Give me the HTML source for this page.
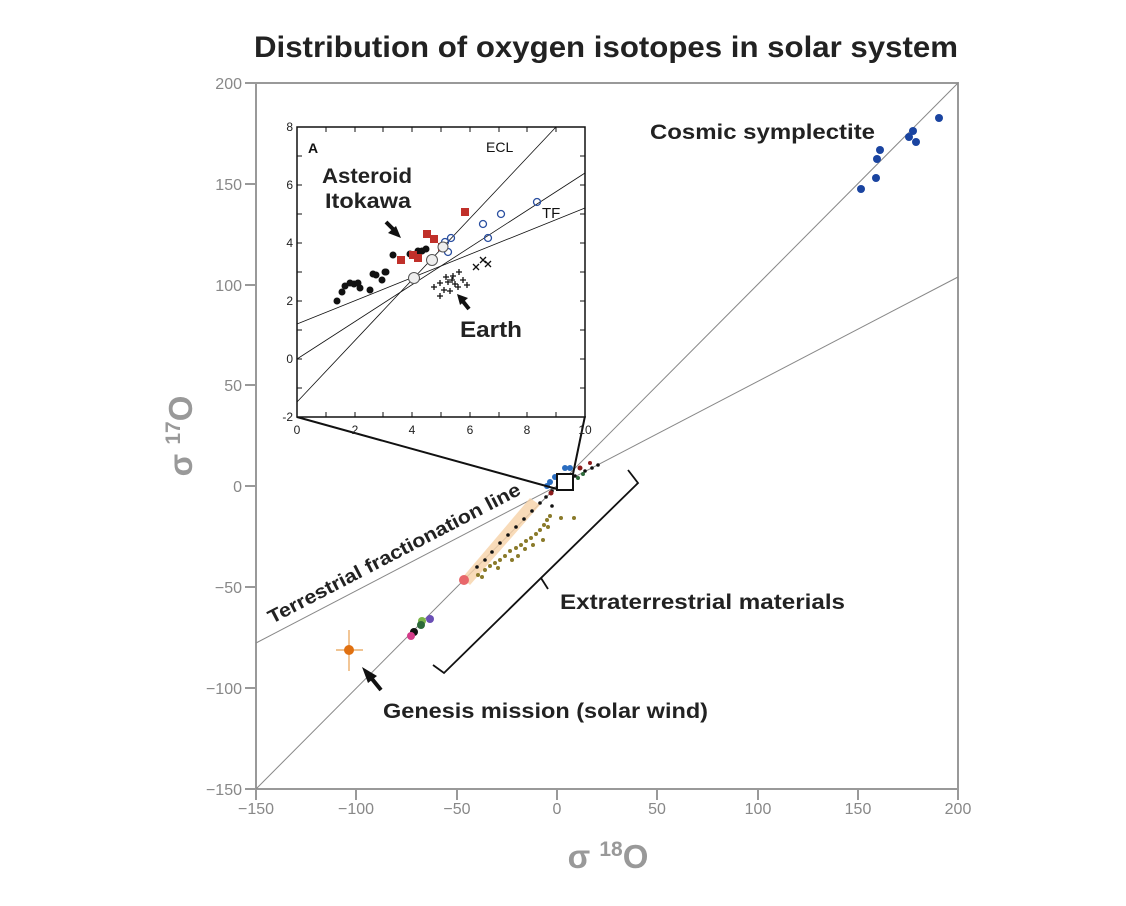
<!DOCTYPE html>
<html><head><meta charset="utf-8"><style>
body{margin:0;background:#fff;}
svg{display:block;font-family:"Liberation Sans",Arial,sans-serif;}
</style></head><body>
<svg width="1126" height="906" viewBox="0 0 1126 906">
<text x="606" y="57" text-anchor="middle" font-size="30" font-weight="bold" fill="#222" textLength="704" lengthAdjust="spacingAndGlyphs">Distribution of oxygen isotopes in solar system</text>
<g stroke="#999" stroke-width="2" fill="none">
<rect x="256" y="83" width="702" height="706"/>
</g>
<g stroke="#999" stroke-width="2">
<line x1="245" y1="83" x2="256" y2="83"/><line x1="245" y1="184" x2="256" y2="184"/><line x1="245" y1="285" x2="256" y2="285"/>
<line x1="245" y1="385" x2="256" y2="385"/><line x1="245" y1="486" x2="256" y2="486"/><line x1="245" y1="587" x2="256" y2="587"/>
<line x1="245" y1="688" x2="256" y2="688"/><line x1="245" y1="789" x2="256" y2="789"/>
<line x1="256" y1="789" x2="256" y2="800"/><line x1="356" y1="789" x2="356" y2="800"/><line x1="457" y1="789" x2="457" y2="800"/>
<line x1="557" y1="789" x2="557" y2="800"/><line x1="657" y1="789" x2="657" y2="800"/><line x1="758" y1="789" x2="758" y2="800"/>
<line x1="858" y1="789" x2="858" y2="800"/><line x1="958" y1="789" x2="958" y2="800"/>
</g>
<g font-size="16" fill="#888" text-anchor="end">
<text x="242" y="89">200</text><text x="242" y="190">150</text><text x="242" y="291">100</text><text x="242" y="391">50</text>
<text x="242" y="492">0</text><text x="242" y="593">−50</text><text x="242" y="694">−100</text><text x="242" y="795">−150</text>
</g>
<g font-size="16" fill="#888" text-anchor="middle">
<text x="256" y="814">−150</text><text x="356" y="814">−100</text><text x="457" y="814">−50</text><text x="557" y="814">0</text>
<text x="657" y="814">50</text><text x="758" y="814">100</text><text x="858" y="814">150</text><text x="958" y="814">200</text>
</g>
<text x="608" y="868" text-anchor="middle" font-size="33" font-weight="bold" fill="#999">σ <tspan font-size="21" dy="-12">18</tspan><tspan dy="12">O</tspan></text>
<text transform="translate(192,436) rotate(-90)" text-anchor="middle" font-size="33" font-weight="bold" fill="#999">σ <tspan font-size="21" dy="-12">17</tspan><tspan dy="12">O</tspan></text>
<line x1="256" y1="789" x2="958" y2="83" stroke="#888" stroke-width="1"/>
<line x1="256" y1="643" x2="958" y2="277" stroke="#888" stroke-width="1"/>
<polygon points="462,578 470,585 540,505 530,498" fill="#f6d2a8" opacity="0.8"/>
<g fill="#8a7a2a">
<circle cx="478" cy="575" r="2"/><circle cx="485" cy="570" r="2"/><circle cx="490" cy="566" r="2"/><circle cx="495" cy="563" r="2"/><circle cx="500" cy="560" r="2"/><circle cx="505" cy="556" r="2"/><circle cx="510" cy="551" r="2"/><circle cx="516" cy="548" r="2"/><circle cx="521" cy="545" r="2"/><circle cx="526" cy="541" r="2"/><circle cx="531" cy="538" r="2"/><circle cx="536" cy="534" r="2"/><circle cx="540" cy="530" r="2"/><circle cx="544" cy="525" r="2"/><circle cx="547" cy="520" r="2"/><circle cx="550" cy="516" r="2"/><circle cx="548" cy="527" r="2"/><circle cx="543" cy="540" r="2"/><circle cx="561" cy="518" r="2"/><circle cx="574" cy="518" r="2"/><circle cx="482" cy="577" r="2"/><circle cx="498" cy="568" r="2"/><circle cx="512" cy="560" r="2"/><circle cx="525" cy="549" r="2"/><circle cx="533" cy="545" r="2"/><circle cx="518" cy="556" r="2"/>
</g>
<g fill="#111">
<circle cx="477" cy="567" r="1.8"/><circle cx="485" cy="560" r="1.8"/><circle cx="492" cy="552" r="1.8"/><circle cx="500" cy="543" r="1.8"/><circle cx="508" cy="535" r="1.8"/><circle cx="516" cy="527" r="1.8"/><circle cx="524" cy="519" r="1.8"/><circle cx="532" cy="511" r="1.8"/><circle cx="540" cy="503" r="1.8"/><circle cx="546" cy="497" r="1.8"/><circle cx="552" cy="491" r="1.8"/><circle cx="560" cy="484" r="1.8"/><circle cx="575" cy="476" r="1.8"/><circle cx="585" cy="471" r="1.8"/><circle cx="592" cy="468" r="1.8"/><circle cx="598" cy="465" r="1.8"/><circle cx="552" cy="506" r="1.8"/>
</g>
<g fill="#2a6dc0"><circle cx="550" cy="482" r="3"/><circle cx="555" cy="477" r="3"/><circle cx="565" cy="468" r="3"/><circle cx="570" cy="468" r="3"/><circle cx="547" cy="486" r="3"/></g>
<g fill="#8b1a1a"><circle cx="580" cy="468" r="2.5"/><circle cx="590" cy="463" r="2"/><circle cx="551" cy="493" r="2.5"/></g>
<g fill="#2d6a3a"><circle cx="578" cy="478" r="2"/><circle cx="583" cy="474" r="2"/></g>
<circle cx="464" cy="580" r="5" fill="#e8676a"/>
<circle cx="430" cy="619" r="4" fill="#6a4fb5"/><circle cx="422" cy="621" r="4" fill="#7ab548"/><circle cx="421" cy="625" r="4" fill="#2d6a3a"/><circle cx="414" cy="632" r="4" fill="#111"/><circle cx="411" cy="636" r="4" fill="#d43c8a"/>
<g stroke="#e8a050" stroke-width="1.2"><line x1="349" y1="630" x2="349" y2="671"/><line x1="336" y1="650" x2="363" y2="650"/></g>
<circle cx="349" cy="650" r="5" fill="#e07010"/>
<g fill="#1a44a0"><circle cx="861" cy="189" r="4"/><circle cx="876" cy="178" r="4"/><circle cx="877" cy="159" r="4"/><circle cx="880" cy="150" r="4"/><circle cx="909" cy="137" r="4"/><circle cx="913" cy="131" r="4"/><circle cx="916" cy="142" r="4"/><circle cx="939" cy="118" r="4"/></g>
<text x="650" y="139" font-size="21" font-weight="bold" fill="#222" textLength="225" lengthAdjust="spacingAndGlyphs">Cosmic symplectite</text>
<line x1="297" y1="417" x2="557" y2="489" stroke="#111" stroke-width="2"/>
<line x1="585" y1="416" x2="573" y2="474" stroke="#111" stroke-width="2"/>
<rect x="557" y="474" width="16" height="16" fill="#fff" stroke="#111" stroke-width="2"/>
<polyline points="433,665 444,673 638,483 628,470" fill="none" stroke="#111" stroke-width="1.8"/>
<polyline points="541,578 548,589" fill="none" stroke="#111" stroke-width="1.8"/>
<text x="560" y="609" font-size="21" font-weight="bold" fill="#222" textLength="285" lengthAdjust="spacingAndGlyphs">Extraterrestrial materials</text>
<text transform="translate(272,624) rotate(-27.5)" font-size="19" font-weight="bold" fill="#222" textLength="282" lengthAdjust="spacingAndGlyphs">Terrestrial fractionation line</text>
<line x1="381" y1="690" x2="368" y2="674" stroke="#111" stroke-width="4"/>
<polygon points="362,667 377,676 368,683" fill="#111"/>
<text x="383" y="718" font-size="21" font-weight="bold" fill="#222" textLength="325" lengthAdjust="spacingAndGlyphs">Genesis mission (solar wind)</text>
<rect x="297" y="127" width="288" height="290" fill="#fff" stroke="#111" stroke-width="1.5"/>
<g stroke="#111" stroke-width="1">
<line x1="297" y1="156" x2="302" y2="156"/><line x1="297" y1="185" x2="302" y2="185"/><line x1="297" y1="214" x2="302" y2="214"/><line x1="297" y1="243" x2="302" y2="243"/><line x1="297" y1="272" x2="302" y2="272"/><line x1="297" y1="301" x2="302" y2="301"/><line x1="297" y1="330" x2="302" y2="330"/><line x1="297" y1="359" x2="302" y2="359"/><line x1="297" y1="388" x2="302" y2="388"/>
<line x1="580" y1="156" x2="585" y2="156"/><line x1="580" y1="185" x2="585" y2="185"/><line x1="580" y1="214" x2="585" y2="214"/><line x1="580" y1="243" x2="585" y2="243"/><line x1="580" y1="272" x2="585" y2="272"/><line x1="580" y1="301" x2="585" y2="301"/><line x1="580" y1="330" x2="585" y2="330"/><line x1="580" y1="359" x2="585" y2="359"/><line x1="580" y1="388" x2="585" y2="388"/>
<line x1="326" y1="127" x2="326" y2="132"/><line x1="355" y1="127" x2="355" y2="132"/><line x1="383" y1="127" x2="383" y2="132"/><line x1="412" y1="127" x2="412" y2="132"/><line x1="441" y1="127" x2="441" y2="132"/><line x1="470" y1="127" x2="470" y2="132"/><line x1="499" y1="127" x2="499" y2="132"/><line x1="527" y1="127" x2="527" y2="132"/><line x1="556" y1="127" x2="556" y2="132"/>
<line x1="326" y1="412" x2="326" y2="417"/><line x1="355" y1="412" x2="355" y2="417"/><line x1="383" y1="412" x2="383" y2="417"/><line x1="412" y1="412" x2="412" y2="417"/><line x1="441" y1="412" x2="441" y2="417"/><line x1="470" y1="412" x2="470" y2="417"/><line x1="499" y1="412" x2="499" y2="417"/><line x1="527" y1="412" x2="527" y2="417"/><line x1="556" y1="412" x2="556" y2="417"/>
</g>
<g font-size="12" fill="#222" text-anchor="end">
<text x="293" y="131">8</text><text x="293" y="189">6</text><text x="293" y="247">4</text><text x="293" y="305">2</text><text x="293" y="363">0</text><text x="293" y="421">-2</text>
</g>
<g font-size="12" fill="#222" text-anchor="middle">
<text x="297" y="434">0</text><text x="355" y="434">2</text><text x="412" y="434">4</text><text x="470" y="434">6</text><text x="527" y="434">8</text><text x="585" y="434">10</text>
</g>
<g stroke="#111" stroke-width="0.8">
<line x1="297" y1="402" x2="556" y2="127"/>
<line x1="297" y1="359" x2="585" y2="173"/>
<line x1="297" y1="324" x2="585" y2="208"/>
</g>
<text x="308" y="153" font-size="14" font-weight="bold" fill="#111">A</text>
<text x="486" y="152" font-size="14" fill="#111">ECL</text>
<text x="542" y="218" font-size="15" fill="#111">TF</text>
<text x="322" y="183" font-size="21" font-weight="bold" fill="#222" textLength="90" lengthAdjust="spacingAndGlyphs">Asteroid</text>
<text x="325" y="208" font-size="21" font-weight="bold" fill="#222" textLength="86" lengthAdjust="spacingAndGlyphs">Itokawa</text>
<text x="460" y="337" font-size="22" font-weight="bold" fill="#222" textLength="62" lengthAdjust="spacingAndGlyphs">Earth</text>
<line x1="386" y1="222" x2="396" y2="232" stroke="#111" stroke-width="4"/><polygon points="401,238 388,233 396,226" fill="#111"/>
<line x1="469" y1="309" x2="461" y2="299" stroke="#111" stroke-width="4"/><polygon points="457,294 468,298 460,305" fill="#111"/>
<g fill="#111">
<circle cx="337" cy="301" r="3.5"/><circle cx="342" cy="292" r="3.5"/><circle cx="345" cy="286" r="3.5"/><circle cx="350" cy="283" r="3.5"/><circle cx="354" cy="284" r="3.5"/><circle cx="358" cy="283" r="3.5"/><circle cx="360" cy="288" r="3.5"/><circle cx="370" cy="290" r="3.5"/><circle cx="373" cy="274" r="3.5"/><circle cx="376" cy="275" r="3.5"/><circle cx="385" cy="272" r="3.5"/><circle cx="382" cy="280" r="3.5"/><circle cx="386" cy="272" r="3.5"/><circle cx="393" cy="255" r="3.5"/><circle cx="410" cy="254" r="3.5"/><circle cx="418" cy="251" r="3.5"/><circle cx="422" cy="251" r="3.5"/><circle cx="426" cy="249" r="3.5"/>
</g>
<g fill="#c0302a"><rect x="397" y="256" width="8" height="8"/><rect x="409" y="251" width="8" height="8"/><rect x="414" y="254" width="8" height="8"/><rect x="423" y="230" width="8" height="8"/><rect x="430" y="235" width="8" height="8"/><rect x="438" y="243" width="8" height="8"/><rect x="461" y="208" width="8" height="8"/></g>
<g fill="none" stroke="#2a4fa0" stroke-width="1.3"><circle cx="445" cy="242" r="3.5"/><circle cx="451" cy="238" r="3.5"/><circle cx="448" cy="252" r="3.5"/><circle cx="483" cy="224" r="3.5"/><circle cx="501" cy="214" r="3.5"/><circle cx="488" cy="238" r="3.5"/><circle cx="537" cy="202" r="3.5"/></g>
<g fill="#eee" stroke="#555" stroke-width="1"><circle cx="414" cy="278" r="5.5"/><circle cx="432" cy="260" r="5.5"/><circle cx="443" cy="247" r="5"/></g>
<g stroke="#111" stroke-width="1.3">
<path d="M431 287h6M434 284v6 M437 283h6M440 280v6 M445 282h6M448 279v6 M450 276h6M453 273v6 M441 290h6M444 287v6 M455 287h6M458 284v6 M437 296h6M440 293v6 M447 291h6M450 288v6 M460 280h6M463 277v6 M452 284h6M455 281v6 M443 277h6M446 274v6 M456 272h6M459 269v6 M464 285h6M467 282v6 M449 280h6M452 277v6"/>
<path d="M473 264l6 6M479 264l-6 6 M480 257l6 6M486 257l-6 6 M485 261l6 6M491 261l-6 6"/>
</g>
</svg>
</body></html>
